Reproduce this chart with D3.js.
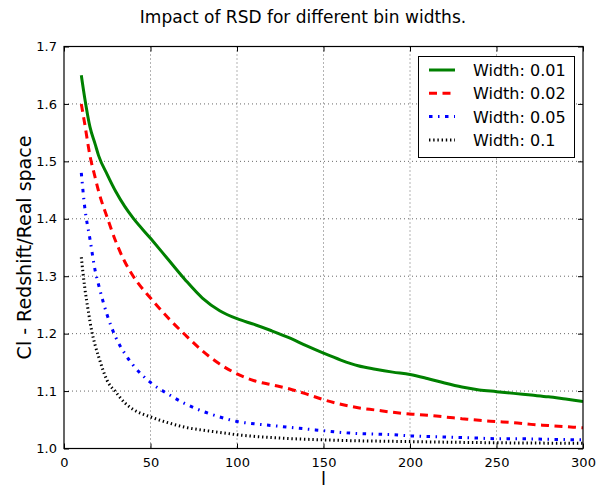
<!DOCTYPE html>
<html><head><meta charset="utf-8">
<script src="https://cdn.jsdelivr.net/npm/d3@7"></script>
<style>body{margin:0;background:#fff}svg{display:block;font-family:"DejaVu Sans",sans-serif}</style>
</head><body><svg id="c" width="606" height="489"></svg>
<script>
const xTicks = [0, 50, 100, 150, 200, 250, 300];
const yTicks = [1.0, 1.1, 1.2, 1.3, 1.4, 1.5, 1.6, 1.7];
const seriesNames = ["Width: 0.01", "Width: 0.02", "Width: 0.05", "Width: 0.1"];
const lGreen = [10,12,15,18,20,25,30,35,40,50,60,70,80,90,100,110,120,130,140,150,160,170,180,190,200,210,220,230,240,250,260,270,280,290,300];
const vGreen = [1.65,1.61,1.56,1.53,1.51,1.477,1.447,1.422,1.401,1.366,1.33,1.294,1.262,1.24,1.226,1.216,1.205,1.193,1.179,1.166,1.154,1.144,1.138,1.133,1.129,1.122,1.114,1.107,1.102,1.099,1.096,1.093,1.09,1.086,1.082];
const lRed = [10,12,15,18,20,25,30,35,40,50,60,70,80,90,100,110,120,130,140,150,160,170,180,190,200,210,220,230,240,250,260,270,280,290,300];
const vRed = [1.60,1.565,1.51,1.472,1.448,1.402,1.36,1.326,1.30,1.262,1.228,1.198,1.17,1.147,1.13,1.118,1.111,1.104,1.095,1.085,1.077,1.071,1.067,1.063,1.06,1.058,1.055,1.052,1.049,1.047,1.045,1.042,1.04,1.038,1.036];
const lBlue = [10,12,15,18,20,25,30,35,40,50,60,70,80,90,100,110,120,130,140,150,160,170,180,190,200,220,240,250,260,280,300];
const vBlue = [1.48,1.42,1.365,1.31,1.285,1.232,1.193,1.166,1.145,1.115,1.095,1.078,1.065,1.055,1.047,1.043,1.04,1.037,1.034,1.031,1.028,1.026,1.025,1.024,1.022,1.02,1.018,1.017,1.017,1.016,1.015];
const lBlack = [10,12,14,16,18,20,25,30,35,40,50,60,70,80,90,100,120,150,200,250,300];
const vBlack = [1.333,1.28,1.24,1.205,1.18,1.16,1.118,1.098,1.08,1.068,1.055,1.045,1.037,1.032,1.028,1.024,1.019,1.015,1.012,1.01,1.009];

const colors = ["#008000", "#ff0000", "#0000ff", "#000000"];
const dashes = [null, "8,5.5", "3.5,5.5,1.5,5.5", "1.4,2.8"];
const seriesL = [lGreen, lRed, lBlue, lBlack];
const seriesV = [vGreen, vRed, vBlue, vBlack];

const svg = d3.select("#c");
const L = 64, R = 583, T = 46.5, B = 448.5;
const x = d3.scaleLinear().domain([0, 300]).range([L, R]);
const y = d3.scaleLinear().domain([1.0, 1.7]).range([B, T]);

// grid
const g = svg.append("g");
g.selectAll("line.gx").data(xTicks.slice(1, -1)).join("line")
  .attr("x1", d => x(d)).attr("x2", d => x(d)).attr("y1", T).attr("y2", B)
  .attr("stroke", "#000").attr("stroke-width", 0.6).attr("stroke-dasharray", "1,3");
g.selectAll("line.gy").data(yTicks.slice(1, -1)).join("line")
  .attr("y1", d => y(d)).attr("y2", d => y(d)).attr("x1", L).attr("x2", R)
  .attr("stroke", "#000").attr("stroke-width", 0.6).attr("stroke-dasharray", "1,3");

// series
const clip = svg.append("clipPath").attr("id", "clp").append("rect")
  .attr("x", L).attr("y", T).attr("width", R - L).attr("height", B - T);
const line = d3.line().x(d => x(d[0])).y(d => y(d[1])).curve(d3.curveMonotoneX);
seriesL.forEach((ls, i) => {
  const pts = ls.map((l, j) => [l, seriesV[i][j]]);
  svg.append("path").attr("d", line(pts)).attr("fill", "none")
    .attr("clip-path", "url(#clp)")
    .attr("stroke", colors[i]).attr("stroke-width", 3)
    .attr("stroke-dasharray", dashes[i]);
});

// axes (inward ticks on all sides)
const fs = 13;
const axB = svg.append("g").attr("transform", `translate(0,${B})`)
  .call(d3.axisBottom(x).tickValues(xTicks).tickSize(-5).tickPadding(9).tickFormat(d3.format("d")));
const axT = svg.append("g").attr("transform", `translate(0,${T})`)
  .call(d3.axisTop(x).tickValues(xTicks).tickSize(-5).tickFormat(""));
const axL = svg.append("g").attr("transform", `translate(${L},0)`)
  .call(d3.axisLeft(y).tickValues(yTicks).tickSize(-5).tickPadding(7).tickFormat(d3.format(".1f")));
const axR = svg.append("g").attr("transform", `translate(${R},0)`)
  .call(d3.axisRight(y).tickValues(yTicks).tickSize(-5).tickFormat(""));
[axB, axT, axL, axR].forEach(a => {
  a.select(".domain").remove();
  a.selectAll("text").attr("font-size", fs).attr("font-family", "DejaVu Sans").attr("fill", "#000");
  a.selectAll("line").attr("stroke", "#000").attr("stroke-width", 1);
});
svg.append("rect").attr("x", L).attr("y", T).attr("width", R - L).attr("height", B - T)
  .attr("fill", "none").attr("stroke", "#000").attr("stroke-width", 1.2);

// title and labels
svg.append("text").attr("x", 303).attr("y", 23).attr("text-anchor", "middle")
  .attr("font-size", 17).text("Impact of RSD for different bin widths.");
svg.append("text").attr("x", (L + R) / 2).attr("y", 485).attr("text-anchor", "middle")
  .attr("font-size", 18).text("l");
svg.append("text").attr("transform", `translate(31,${(T + B) / 2}) rotate(-90)`)
  .attr("text-anchor", "middle").attr("font-size", 19).text("Cl - Redshift/Real space");

// legend
const lg = svg.append("g");
lg.append("rect").attr("x", 418.5).attr("y", 56.5).attr("width", 156).attr("height", 101)
  .attr("fill", "#fff").attr("stroke", "#000").attr("stroke-width", 1);
seriesNames.forEach((n, i) => {
  const yy = 70 + i * 23.3;
  lg.append("line").attr("x1", 429).attr("x2", 455).attr("y1", yy).attr("y2", yy)
    .attr("stroke", colors[i]).attr("stroke-width", 3).attr("stroke-dasharray", dashes[i]);
  lg.append("text").attr("x", 473).attr("y", yy + 6).attr("font-size", 16).text(n);
});
</script></body></html>
